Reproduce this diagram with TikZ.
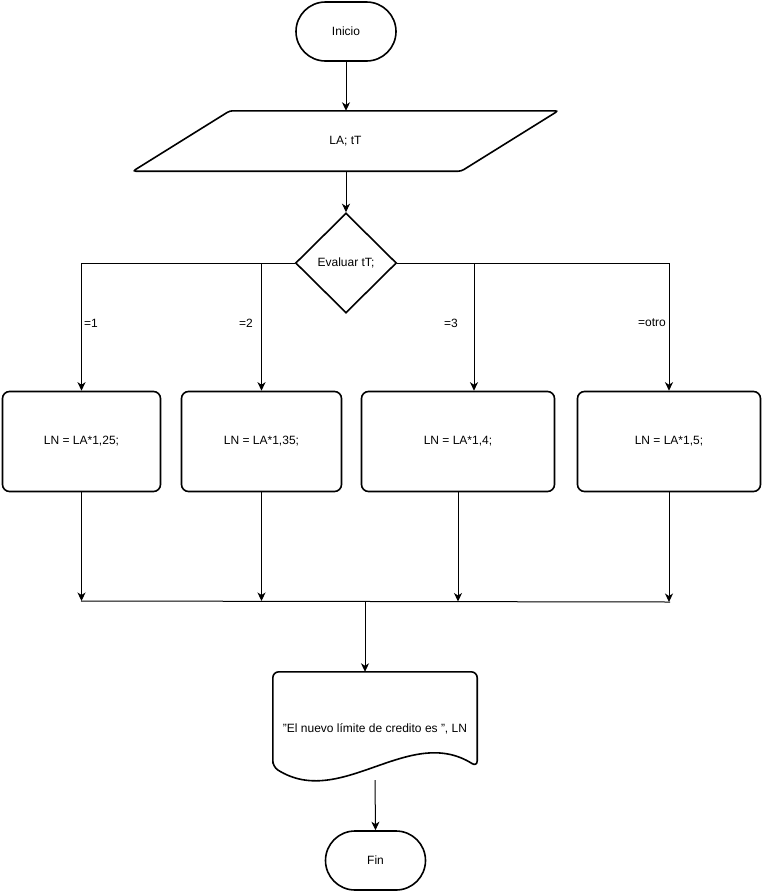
\documentclass[tikz,border=0pt]{standalone}
\usepackage{fontspec}
\setmainfont{Liberation Sans}
\usetikzlibrary{shapes.geometric,shapes.misc,arrows.meta}

\begin{document}
\begin{tikzpicture}[x=1pt,y=-1pt,
  font=\fontsize{12}{14}\selectfont,
  shapeline/.style={draw=black, line width=1.6pt, fill=white},
  terminal/.style={shapeline, rounded rectangle, minimum width=100pt, minimum height=59pt, inner sep=0pt},
  decision/.style={shapeline, diamond, minimum width=101pt, minimum height=100pt, inner sep=0pt},
  process/.style={shapeline, rectangle, rounded corners=7pt, minimum height=100pt},
  flow/.style={line width=1pt, -{Stealth[length=8.5pt,width=8pt,inset=2.5pt]}},
  link/.style={line width=1pt},
  caselabel/.style={inner sep=0pt, anchor=center}
]
% canvas
\fill[white] (0,0) rectangle (762,892);
\useasboundingbox (0,0) rectangle (762,892);

% main blocks
\node[terminal] (start) at (346,31.5) {Inicio};

% input/output parallelogram: text node, outline drawn around it
\node[minimum width=425pt, minimum height=60pt, inner sep=0pt] (input) at (345.5,141) {};
\draw[shapeline, rounded corners=3pt]
  ([xshift=97pt]input.north west) -- (input.north east)
  -- ([xshift=-97pt]input.south east) -- (input.south west) -- cycle;
\node at (input.center) {LA; tT};

\node[decision] (eval) at (346,263) {Evaluar tT;};

\node[process, minimum width=158pt] (c1) at (81.5,441.5) {LN = LA*1,25;};
\node[process, minimum width=160pt] (c2) at (261.5,441.5) {LN = LA*1,35;};
\node[process, minimum width=193pt] (c3) at (458,441.5) {LN = LA*1,4;};
\node[process, minimum width=183pt] (c4) at (669,441.5) {LN = LA*1,5;};

% output document: text node, outline with wavy bottom drawn around it
\node[minimum width=204pt, minimum height=114pt, inner sep=0pt] (out) at (375,729) {};
\draw[shapeline, rounded corners=6pt]
  ([yshift=-95pt]out.north west) -- (out.north west) -- (out.north east)
  -- ([yshift=-95pt]out.north east)
  .. controls ([xshift=-68pt,yshift=-52pt]out.north east)
  and ([xshift=68pt,yshift=-138pt]out.north west) ..
  ([yshift=-95pt]out.north west) -- cycle;
\node at (out.center) {\char"0022 El nuevo límite de credito es \char"0022, LN};

\node[terminal] (end) at (375.5,860.5) {Fin};

% connectors
\draw[flow] (start.south) -- (start.south |- input.north);
\draw[flow] (start.south |- input.south) -- (eval.north);

\draw[flow] (eval.west) -| (c1.north);
\draw[flow] (eval.west) -| (c2.north);
\draw[flow] (eval.east) -| ([xshift=16pt]c3.north);
\draw[flow] (eval.east) -| (c4.north);

\node[caselabel] (l1) at (91,323) {=1};
\node[caselabel] (l2) at (246,323) {=2};
\node[caselabel] (l3) at (451,323) {=3};
\node[caselabel] (l4) at (652,323) {=otro};

% merge line
\coordinate (mL) at (81,601);
\coordinate (mR) at (670,602);
\coordinate (mMid) at (365,601.5);
\draw[link] (mL) -- (mR);
\draw[flow] (c1.south) -- (c1.south |- mL);
\draw[flow] (c2.south) -- (c2.south |- mL);
\draw[flow] (c3.south) -- (c3.south |- mMid);
\draw[flow] (c4.south) -- (c4.south |- mR);

\draw[flow] (mMid) -- (mMid |- out.north);
\coordinate (outEnd) at (375,780);
\draw[flow] (outEnd) -- (end.north);
\end{tikzpicture}
\end{document}
